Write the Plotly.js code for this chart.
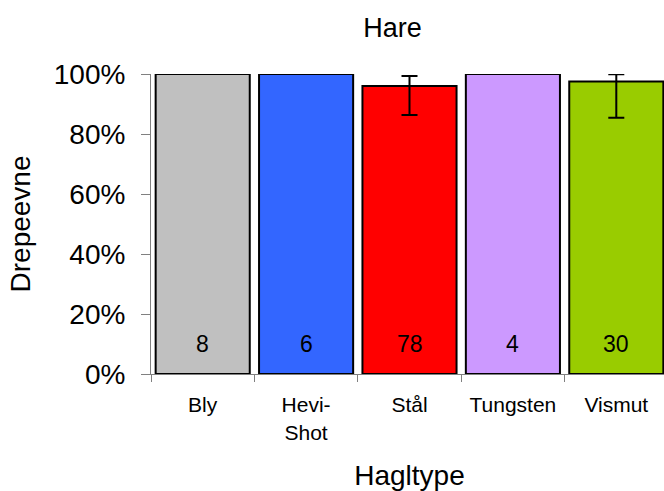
<!DOCTYPE html>
<html>
<head>
<meta charset="utf-8">
<script src="https://cdn.plot.ly/plotly-3.0.1.min.js"></script>
<style>
html,body{margin:0;padding:0;overflow:hidden;background:#fff;}
#chart{width:668px;height:491px;}
</style>
</head>
<body>
<div id="chart"></div>
<script>
const categories = ["Bly", "Hevi-<br>Shot", "Stål", "Tungsten", "Vismut"];
const values = [100, 100, 96, 100, 97.5];
const errPlus = [0, 0, 3.3, 0, 2.4];
const errMinus = [0, 0, 9.7, 0, 12.1];
const counts = ["8", "6", "78", "4", "30"];
const colors = ["#C0C0C0", "#3366FF", "#FF0000", "#CC99FF", "#99CC00"];
const yTicks = [0, 20, 40, 60, 80, 100];

const FONT = "Liberation Sans, Arial, sans-serif";

const trace = {
  type: "bar",
  x: categories,
  y: values,
  marker: {color: colors, line: {color: "#000000", width: 2}},
  error_y: {
    type: "data", symmetric: false,
    array: errPlus, arrayminus: errMinus,
    color: "#000000", thickness: 2, width: 8
  },
  cliponaxis: false,
  hoverinfo: "skip"
};

const annotations = categories.map((c, i) => ({
  x: c, y: 10, xref: "x", yref: "y",
  text: counts[i], showarrow: false,
  font: {family: FONT, size: 23, color: "#000"}
}));

const layout = {
  width: 668, height: 491,
  margin: {l: 151, r: 0, t: 74, b: 117},
  paper_bgcolor: "#fff", plot_bgcolor: "#fff",
  bargap: 0.09,
  showlegend: false,
  title: {text: "Hare", font: {family: FONT, size: 27, color: "#000"},
          x: 0.467, xref: "paper", y: 0.963, yref: "container", xanchor: "center"},
  xaxis: {
    type: "category",
    tickson: "boundaries",
    ticks: "outside", ticklen: 7, tickcolor: "#808080", tickwidth: 1,
    showline: true, linecolor: "#808080", linewidth: 1,
    showgrid: false, zeroline: false,
    tickfont: {family: FONT, size: 21, color: "#000"},
    ticklabelstandoff: 12,
    title: {text: "Hagltype", font: {family: FONT, size: 28, color: "#000"}, standoff: 24}
  },
  yaxis: {
    range: [0, 100],
    tickvals: yTicks,
    ticktext: yTicks.map(v => v + "%"),
    ticks: "outside", ticklen: 9, tickcolor: "#808080", tickwidth: 1,
    showline: true, linecolor: "#808080", linewidth: 1,
    showgrid: false, zeroline: false,
    tickfont: {family: FONT, size: 28, color: "#000"},
    ticklabelstandoff: 10,
    title: {text: "Drepeevne", font: {family: FONT, size: 28, color: "#000"}, standoff: 14}
  },
  annotations: annotations
};

Plotly.newPlot("chart", [trace], layout, {displayModeBar: false, staticPlot: true});
</script>
</body>
</html>
